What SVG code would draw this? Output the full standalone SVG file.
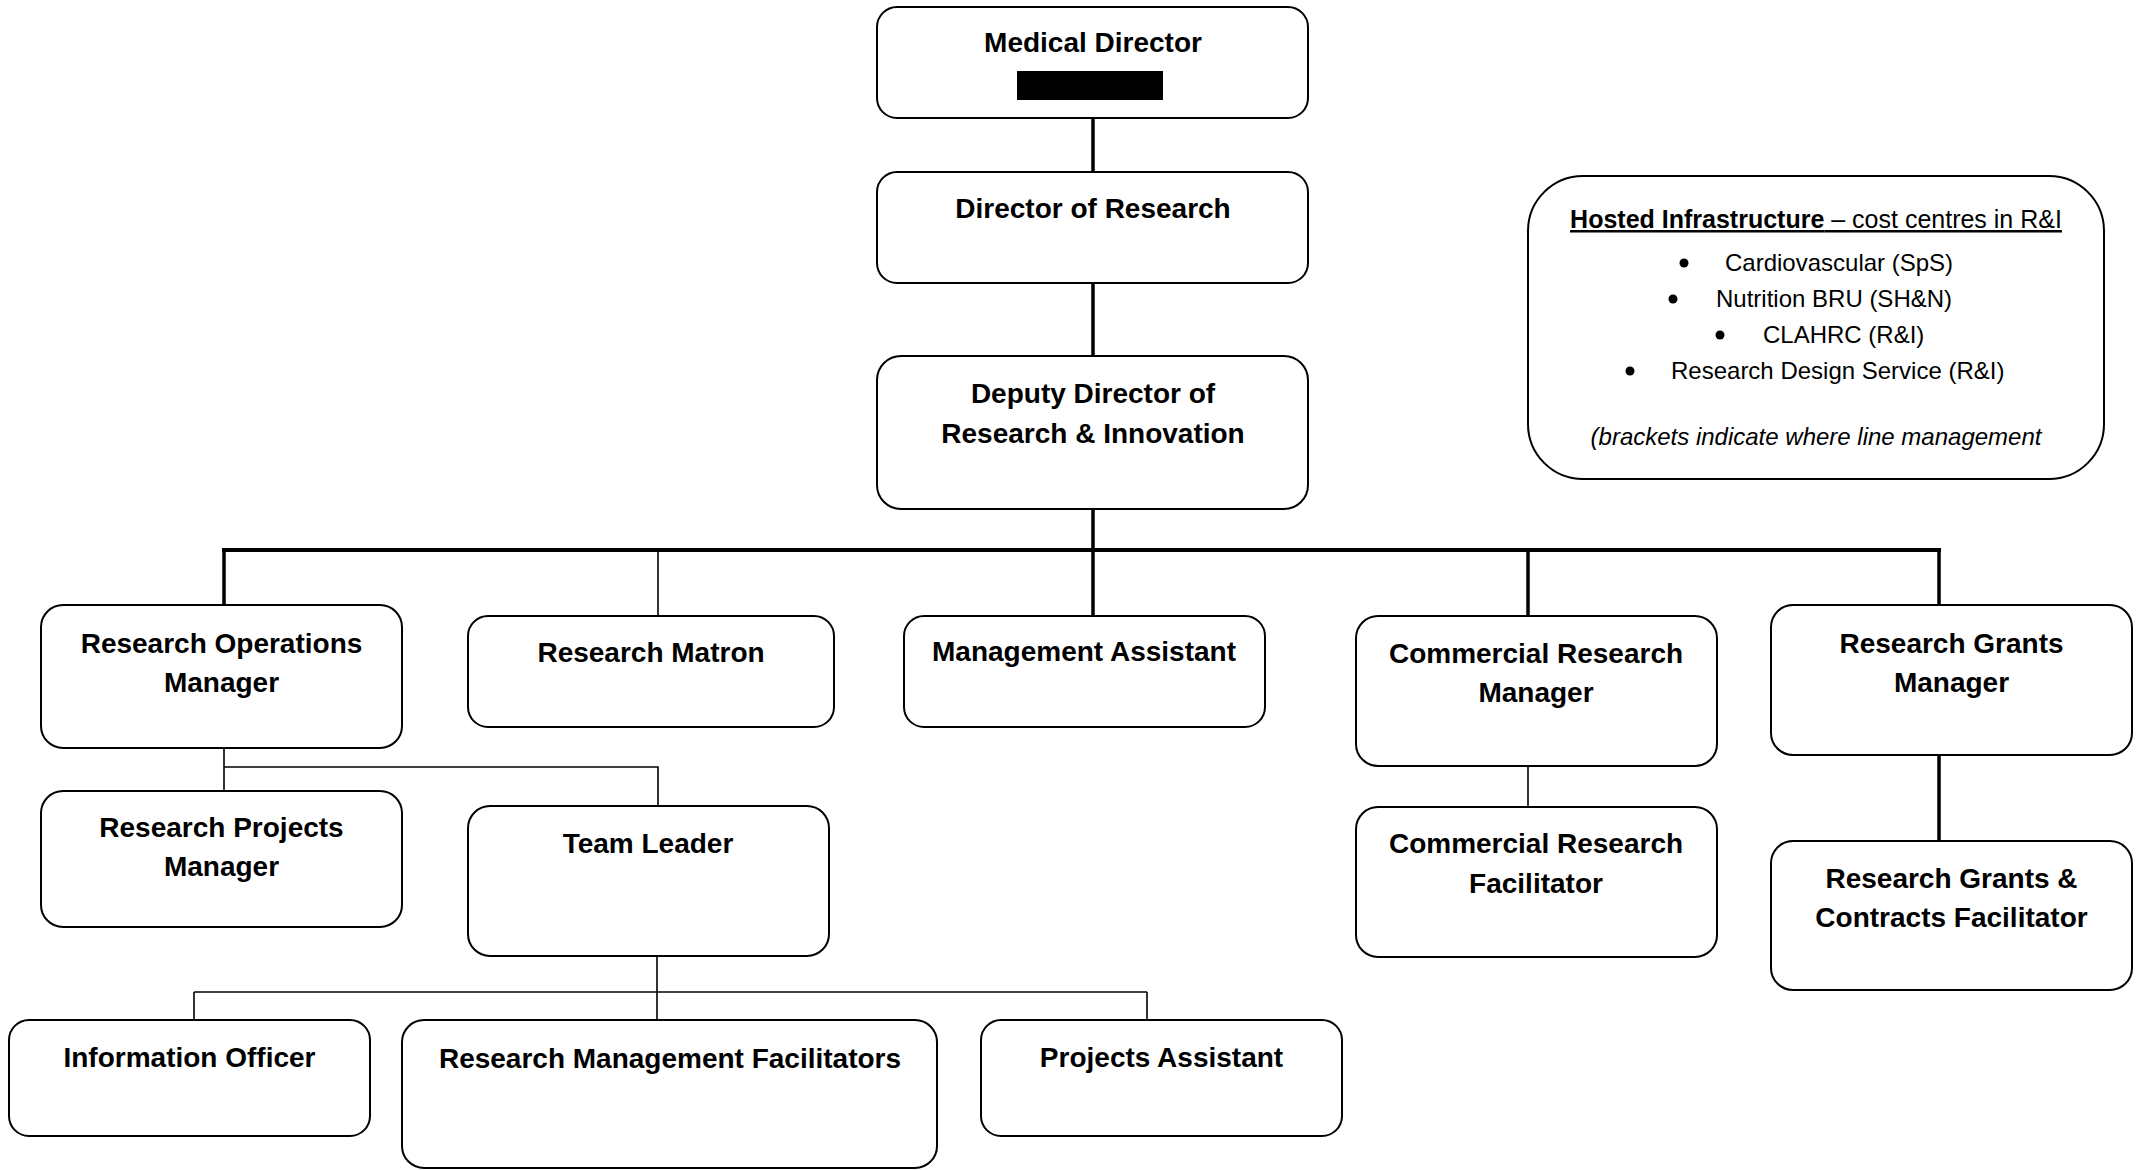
<svg xmlns="http://www.w3.org/2000/svg" width="2140" height="1170" viewBox="0 0 2140 1170">
<style>
.box{fill:#fff;stroke:#000;stroke-width:2}
.lbl{font-family:"Liberation Sans",Arial,sans-serif;font-weight:bold;font-size:28px;text-anchor:middle;fill:#000}
.txt{font-family:"Liberation Sans",Arial,sans-serif;font-size:24px;fill:#000}
.thick{stroke:#000;stroke-width:3.5;fill:none}
.thin{stroke:#000;stroke-width:1.6;fill:none}
</style>
<rect width="2140" height="1170" fill="#fff"/>
<g id="connectors">
<line class="thick" x1="1093" y1="117" x2="1093" y2="172"/>
<line class="thick" x1="1093" y1="283" x2="1093" y2="356"/>
<line class="thick" x1="1093" y1="509" x2="1093" y2="550"/>
<line x1="222" y1="550" x2="1941" y2="550" stroke="#000" stroke-width="4"/>
<line class="thick" x1="224" y1="550" x2="224" y2="605"/>
<line class="thin" x1="658" y1="550" x2="658" y2="616"/>
<line class="thick" x1="1093" y1="550" x2="1093" y2="616"/>
<line class="thick" x1="1528" y1="550" x2="1528" y2="616"/>
<line class="thick" x1="1939" y1="550" x2="1939" y2="605"/>
<path class="thin" d="M224 748 V791 M224 767 H658 V806"/>
<line class="thin" x1="1528" y1="766" x2="1528" y2="807"/>
<line class="thick" x1="1939" y1="755" x2="1939" y2="841"/>
<path class="thin" d="M657 956 V992 M194 992 H1147 M194 992 V1020 M657 992 V1020 M1147 992 V1020"/>
</g>
<g id="medical-director">
<rect class="box" x="877" y="7" width="431" height="111" rx="20"/>
<text class="lbl" x="1093" y="52">Medical Director</text>
<rect x="1017" y="71" width="146" height="29" fill="#000"/>
</g>
<g id="director-of-research">
<rect class="box" x="877" y="172" width="431" height="111" rx="20"/>
<text class="lbl" x="1093" y="218">Director of Research</text>
</g>
<g id="deputy-director">
<rect class="box" x="877" y="356" width="431" height="153" rx="24"/>
<text class="lbl" x="1093" y="403">Deputy Director of</text>
<text class="lbl" x="1093" y="443">Research &amp; Innovation</text>
</g>
<g id="hosted-infrastructure">
<rect class="box" x="1528" y="176" width="576" height="303" rx="55"/>
<text class="txt" x="1816" y="228" text-anchor="middle" style="font-size:25px"><tspan font-weight="bold" text-decoration="underline">Hosted Infrastructure</tspan><tspan text-decoration="underline"> – cost centres in R&amp;I</tspan></text>
<circle cx="1684" cy="263" r="4.5"/>
<text class="txt" x="1725" y="271">Cardiovascular (SpS)</text>
<circle cx="1673" cy="299" r="4.5"/>
<text class="txt" x="1716" y="307">Nutrition BRU (SH&amp;N)</text>
<circle cx="1720" cy="335" r="4.5"/>
<text class="txt" x="1763" y="343">CLAHRC (R&amp;I)</text>
<circle cx="1630" cy="371" r="4.5"/>
<text class="txt" x="1671" y="379">Research Design Service (R&amp;I)</text>
<text class="txt" x="1816" y="445" text-anchor="middle" font-style="italic">(brackets indicate where line management</text>
</g>
<g id="research-operations-manager">
<rect class="box" x="41" y="605" width="361" height="143" rx="22"/>
<text class="lbl" x="221.5" y="653">Research Operations</text>
<text class="lbl" x="221.5" y="692">Manager</text>
</g>
<g id="research-matron">
<rect class="box" x="468" y="616" width="366" height="111" rx="20"/>
<text class="lbl" x="651" y="662">Research Matron</text>
</g>
<g id="management-assistant">
<rect class="box" x="904" y="616" width="361" height="111" rx="20"/>
<text class="lbl" x="1084" y="661">Management Assistant</text>
</g>
<g id="commercial-research-manager">
<rect class="box" x="1356" y="616" width="361" height="150" rx="22"/>
<text class="lbl" x="1536" y="663">Commercial Research</text>
<text class="lbl" x="1536" y="702">Manager</text>
</g>
<g id="research-grants-manager">
<rect class="box" x="1771" y="605" width="361" height="150" rx="22"/>
<text class="lbl" x="1951.5" y="653">Research Grants</text>
<text class="lbl" x="1951.5" y="692">Manager</text>
</g>
<g id="research-projects-manager">
<rect class="box" x="41" y="791" width="361" height="136" rx="22"/>
<text class="lbl" x="221.5" y="837">Research Projects</text>
<text class="lbl" x="221.5" y="876">Manager</text>
</g>
<g id="team-leader">
<rect class="box" x="468" y="806" width="361" height="150" rx="22"/>
<text class="lbl" x="648" y="853">Team Leader</text>
</g>
<g id="commercial-research-facilitator">
<rect class="box" x="1356" y="807" width="361" height="150" rx="22"/>
<text class="lbl" x="1536" y="853">Commercial Research</text>
<text class="lbl" x="1536" y="893">Facilitator</text>
</g>
<g id="research-grants-contracts-facilitator">
<rect class="box" x="1771" y="841" width="361" height="149" rx="22"/>
<text class="lbl" x="1951.5" y="888">Research Grants &amp;</text>
<text class="lbl" x="1951.5" y="927">Contracts Facilitator</text>
</g>
<g id="information-officer">
<rect class="box" x="9" y="1020" width="361" height="116" rx="20"/>
<text class="lbl" x="189.5" y="1067">Information Officer</text>
</g>
<g id="research-management-facilitators">
<rect class="box" x="402" y="1020" width="535" height="148" rx="22"/>
<text class="lbl" x="670" y="1068">Research Management Facilitators</text>
</g>
<g id="projects-assistant">
<rect class="box" x="981" y="1020" width="361" height="116" rx="20"/>
<text class="lbl" x="1161.5" y="1067">Projects Assistant</text>
</g>
</svg>
